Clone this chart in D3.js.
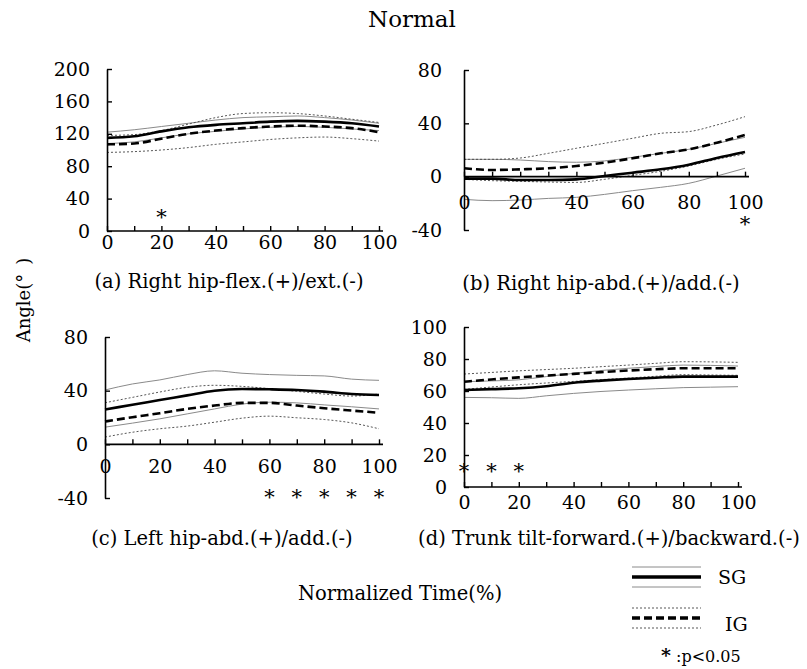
<!DOCTYPE html>
<html>
<head>
<meta charset="utf-8">
<script src="https://cdn.jsdelivr.net/npm/d3@7"></script>
<style>
  body { margin: 0; background: #fff; }
  svg text { font-family: "DejaVu Serif", serif; fill: #000; }
</style>
</head>
<body>
<svg id="chart" width="807" height="669"></svg>
<script>
// normalized time (%)
const timePoints = [0, 10, 20, 30, 40, 50, 60, 70, 80, 90, 100];

// (a) Right hip flex/ext
const aSgMean  = [115, 117, 123, 128, 131, 133, 135, 136, 135, 133, 129];
const aSgUpper = [122, 125, 129, 133, 137, 140, 141, 142, 140, 137, 133];
const aSgLower = [108, 110, 115, 120, 123, 126, 128, 129, 128, 126, 124];
const aIgMean  = [107, 108, 114, 120, 124, 127, 129, 130, 129, 127, 122];
const aIgUpper = [118, 119, 124, 132, 140, 145, 146, 145, 142, 138, 134];
const aIgLower = [97, 98, 100, 103, 107, 110, 113, 115, 116, 114, 111];
const aSig = [20];

// (b) Right hip abd/add
const bSgMean  = [-1.5, -1.5, -2.5, -2.5, -2, 0.5, 3, 5.5, 9, 14, 18.5];
const bSgUpper = [13, 13, 12.5, 11.3, 10.8, 11.8, 14.5, 17.5, 20.5, 25, 29.5];
const bSgLower = [-17, -18, -17.5, -16.3, -15.5, -13.3, -10.5, -8, -5, 0.5, 6.3];
const bIgMean  = [6.3, 5, 5.5, 6.3, 8, 10.5, 13.8, 17.5, 20.5, 25.5, 31.3];
const bIgUpper = [13, 13, 14, 17.5, 21.3, 25, 28.8, 32.5, 33.8, 38.8, 45];
const bIgLower = [-2, -3, -3.5, -4, -4.3, -2, 1, 4, 8, 13, 17];
const bSig = [100];

// (c) Left hip abd/add
const cSgMean  = [26, 29.5, 33, 36.5, 40, 41.2, 41, 40.5, 39.3, 37.5, 36.8];
const cSgUpper = [40.5, 45, 48, 52, 54.8, 53, 52, 51.4, 51, 48.6, 47.7];
const cSgLower = [12.8, 15.8, 19, 22.7, 26.4, 30, 31.4, 30.9, 29.4, 28, 26.4];
const cIgMean  = [17, 20.2, 23.2, 26.4, 28.9, 30.9, 30.9, 28.9, 26.9, 25.2, 23.5];
const cIgUpper = [31, 35, 39, 42.5, 44, 43.2, 41.5, 39.5, 37.5, 36, 37.5];
const cIgLower = [5.4, 9, 11.6, 13.6, 16.5, 19.5, 21, 19.8, 18.5, 16, 11.6];
const cSig = [60, 70, 80, 90, 100];

// (d) Trunk tilt forward/backward
const dSgMean  = [60.6, 61.2, 61.7, 63, 65.2, 66.5, 67.5, 68.3, 69, 69, 69];
const dSgUpper = [65.8, 66.3, 67, 69, 71, 72.8, 74.2, 75.3, 76.2, 76, 75.6];
const dSgLower = [56, 55.8, 55.4, 57, 58.5, 59.7, 60.6, 61.4, 62.1, 62.4, 62.7];
const dIgMean  = [65.8, 67.2, 68.5, 69.6, 70.7, 71.8, 72.8, 73.6, 74.2, 74.2, 74.2];
const dIgUpper = [70.6, 71.6, 72.6, 73.4, 74.2, 75.2, 76.2, 77.3, 78.3, 78.2, 77.9];
const dIgLower = [61, 62.5, 63.9, 65, 66, 67.1, 68.1, 69.2, 70.2, 70, 69.8];
const dSig = [0, 10, 20];

const xTickValues = [0, 10, 20, 30, 40, 50, 60, 70, 80, 90, 100];
const xTickLabels = [0, 20, 40, 60, 80, 100];

const panels = [
  { caption: '(a) Right hip-flex.(+)/ext.(-)', sg: [aSgMean, aSgUpper, aSgLower], ig: [aIgMean, aIgUpper, aIgLower], sig: aSig,
    yDomain: [0, 200], yTicks: [0, 40, 80, 120, 160, 200],
    x: [107, 379], y: [231, 69], labelPad: 17, xPad: 5, sigLevel: 22, capX: 229, capY: 288 },
  { caption: '(b) Right hip-abd.(+)/add.(-)', sg: [bSgMean, bSgUpper, bSgLower], ig: [bIgMean, bIgUpper, bIgLower], sig: bSig,
    yDomain: [-40, 80], yTicks: [-40, 0, 40, 80],
    x: [464, 745], y: [230, 70], labelPad: 22, xPad: 19, sigLevel: -32.5, capX: 601, capY: 290 },
  { caption: '(c) Left hip-abd.(+)/add.(-)', sg: [cSgMean, cSgUpper, cSgLower], ig: [cIgMean, cIgUpper, cIgLower], sig: cSig,
    yDomain: [-40, 80], yTicks: [-40, 0, 40, 80],
    x: [105, 379], y: [498, 337], labelPad: 17, xPad: 15, sigLevel: -36, capX: 222, capY: 545 },
  { caption: '(d) Trunk tilt-forward.(+)/backward.(-)', sg: [dSgMean, dSgUpper, dSgLower], ig: [dIgMean, dIgUpper, dIgLower], sig: dSig,
    yDomain: [0, 100], yTicks: [0, 20, 40, 60, 80, 100],
    x: [464, 738], y: [487, 327], labelPad: 17, xPad: 9, sigLevel: 12.5, capX: 609, capY: 545 }
];

const svg = d3.select('#chart');

const styles = {
  sgSd:   { stroke: '#8a8a8a', width: 1, dash: null },
  igSd:   { stroke: '#444', width: 0.9, dash: '2,2' },
  sgMean: { stroke: '#000', width: 2.6, dash: null },
  igMean: { stroke: '#000', width: 2.6, dash: '8,4' }
};

panels.forEach((p) => {
  const x = d3.scaleLinear().domain([0, 100]).range(p.x);
  const y = d3.scaleLinear().domain(p.yDomain).range(p.y);
  const g = svg.append('g');
  const line = d3.line().x((d, i) => x(timePoints[i])).y((d) => y(d)).curve(d3.curveMonotoneX);

  const series = [
    [p.sg[1], styles.sgSd], [p.sg[2], styles.sgSd],
    [p.ig[1], styles.igSd], [p.ig[2], styles.igSd],
    [p.sg[0], styles.sgMean], [p.ig[0], styles.igMean]
  ];
  series.forEach(([values, s]) => {
    g.append('path').attr('d', line(values)).attr('fill', 'none')
      .attr('stroke', s.stroke).attr('stroke-width', s.width)
      .attr('stroke-dasharray', s.dash);
  });

  const yAxis = g.append('g').attr('transform', `translate(${p.x[0]},0)`)
    .call(d3.axisLeft(y).tickValues(p.yTicks).tickSizeInner(-5).tickSizeOuter(0).tickPadding(p.labelPad).tickFormat((v) => `${v}`));
  const xAxis = g.append('g').attr('transform', `translate(0,${y(0)})`)
    .call(d3.axisBottom(x).tickValues(xTickValues).tickSizeInner(-5).tickSizeOuter(0).tickPadding(p.xPad)
      .tickFormat((v) => (xTickLabels.includes(v) ? `${v}` : '')));
  xAxis.select('.domain').attr('d', `M${x(0)},0H${x(100) + 4}`);
  [yAxis, xAxis].forEach((ax) => {
    ax.selectAll('.domain').attr('stroke', '#000').attr('stroke-width', 1.6);
    ax.selectAll('.tick line').attr('stroke', '#000').attr('stroke-width', 1.4);
    ax.selectAll('.tick text').attr('font-size', 19).attr('font-family', '"DejaVu Serif", serif').attr('fill', '#000');
  });

  g.selectAll('text.sig').data(p.sig).join('text').attr('class', 'sig')
    .attr('x', (d) => x(d)).attr('y', y(p.sigLevel) + 11)
    .attr('text-anchor', 'middle').attr('font-size', 21).text('*');

  svg.append('text').attr('x', p.capX).attr('y', p.capY).attr('text-anchor', 'middle')
    .attr('font-size', 19.5).text(p.caption);
});

svg.append('text').attr('x', 412).attr('y', 27).attr('text-anchor', 'middle').attr('font-size', 23).text('Normal');
svg.append('text').attr('transform', 'translate(30,300) rotate(-90)').attr('text-anchor', 'middle')
  .attr('font-size', 18).text('Angle(°\u2002)');
svg.append('text').attr('x', 400).attr('y', 600).attr('text-anchor', 'middle').attr('font-size', 19.5).text('Normalized Time(%)');

// legend
const legendX = d3.scaleLinear().domain([0, 1]).range([632, 701]);
const legendRows = [
  { label: 'SG', sd: styles.sgSd, mean: styles.sgMean, yc: 577, textX: 718 },
  { label: 'IG', sd: styles.igSd, mean: styles.igMean, yc: 618, textX: 725 }
];
legendRows.forEach((r) => {
  [[-10, r.sd], [0, r.mean], [10, r.sd]].forEach(([off, s]) => {
    svg.append('line').attr('x1', legendX(0)).attr('x2', legendX(1))
      .attr('y1', r.yc + off).attr('y2', r.yc + off)
      .attr('stroke', s.stroke).attr('stroke-width', s.width === 2.6 ? 3.4 : s.width)
      .attr('stroke-dasharray', s.dash);
  });
  svg.append('text').attr('x', r.textX).attr('y', r.yc + (r.label === 'IG' ? 13 : 7)).attr('font-size', 19).text(r.label);
});
svg.append('text').attr('x', 661).attr('y', 662).attr('font-size', 16)
  .html('<tspan font-weight="bold" font-size="19">*</tspan> :p&lt;0.05');
</script>
</body>
</html>
